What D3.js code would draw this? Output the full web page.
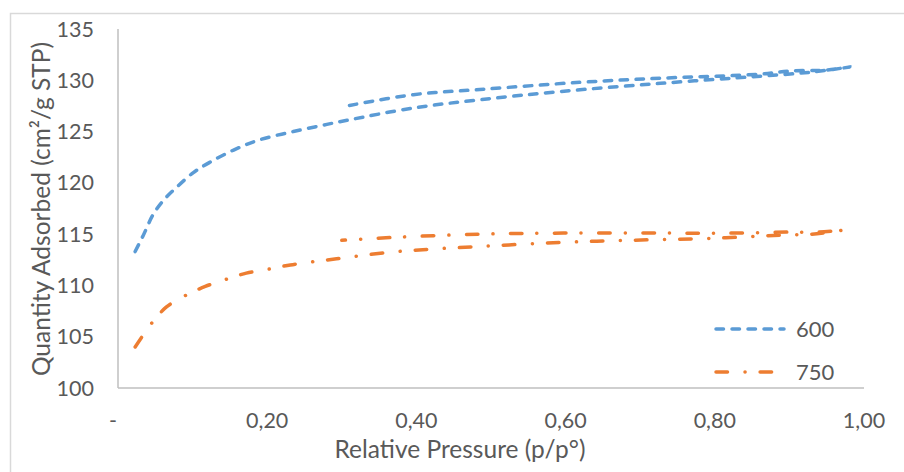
<!DOCTYPE html>
<html>
<head>
<meta charset="utf-8">
<script src="https://cdn.jsdelivr.net/npm/d3@7"></script>
<style>
  html, body { margin: 0; padding: 0; background: #fff; }
  svg { display: block; }
  text { font-family: Lato, "Open Sans", sans-serif; fill: #595959; }
</style>
</head>
<body>
<svg id="chart" width="904" height="472"></svg>
<script>
// isotherms: adsorption up to ~0.98, then desorption back down to ~0.30
var p600 = [0.023, 0.034, 0.047, 0.061, 0.079, 0.101, 0.123, 0.155, 0.19, 0.235, 0.28, 0.307,
  0.396, 0.485, 0.592, 0.727, 0.861, 0.93, 0.981,
  0.95, 0.90, 0.861, 0.727, 0.619, 0.485, 0.396, 0.307];
var v600 = [113.3, 114.9, 116.9, 118.3, 119.6, 121.0, 122.0, 123.2, 124.2, 125.0, 125.7, 126.1,
  127.3, 128.1, 128.9, 129.7, 130.4, 130.8, 131.3,
  131.0, 130.9, 130.6, 130.2, 129.8, 129.1, 128.6, 127.5];

var p750 = [0.023, 0.045, 0.065, 0.09, 0.117, 0.145, 0.172, 0.203, 0.231, 0.261, 0.293, 0.374,
  0.485, 0.597, 0.686, 0.798, 0.887, 0.93, 0.972,
  0.94, 0.90, 0.82, 0.73, 0.597, 0.485, 0.374, 0.30];
var v750 = [104.0, 106.3, 107.9, 109.0, 109.9, 110.6, 111.2, 111.6, 112.0, 112.3, 112.6, 113.3,
  113.8, 114.2, 114.4, 114.6, 114.9, 115.0, 115.4,
  115.2, 115.2, 115.1, 115.1, 115.1, 115.0, 114.7, 114.4];

var seriesNames = ["600", "750"];
var xTicks = [0, 0.2, 0.4, 0.6, 0.8, 1.0];
var yTicks = [100, 105, 110, 115, 120, 125, 130, 135];

var svg = d3.select("#chart");
var margin = { top: 29, left: 118, right: 40, bottom: 84 };
var width = 904 - margin.left - margin.right;
var height = 472 - margin.top - margin.bottom;

// chart area border
svg.append("rect")
  .attr("x", 10.5).attr("y", 13.5)
  .attr("width", 920).attr("height", 500)
  .attr("fill", "none")
  .attr("stroke", "#d9d9d9")
  .attr("stroke-width", 1.5);

var x = d3.scaleLinear().domain([0, 1]).range([margin.left, margin.left + width]);
var y = d3.scaleLinear().domain([100, 135]).range([margin.top + height, margin.top]);

// axes lines
svg.append("line")
  .attr("x1", x(0)).attr("x2", x(0))
  .attr("y1", y(135)).attr("y2", y(100))
  .attr("stroke", "#bfbfbf").attr("stroke-width", 1.5);
svg.append("line")
  .attr("x1", x(0)).attr("x2", x(1))
  .attr("y1", y(100)).attr("y2", y(100))
  .attr("stroke", "#bfbfbf").attr("stroke-width", 1.5);

// tick labels
svg.selectAll(".ytick").data(yTicks).enter().append("text")
  .attr("x", x(0) - 24)
  .attr("y", function (d) { return y(d); })
  .attr("dy", "0.35em")
  .attr("text-anchor", "end")
  .style("font-size", "21.5px")
  .text(function (d) { return d; });

var fmt = function (d) { return d === 0 ? "-" : d3.format(".2f")(d).replace(".", ","); };
svg.selectAll(".xtick").data(xTicks).enter().append("text")
  .attr("x", function (d) { return d === 0 ? x(d) - 5 : x(d); })
  .attr("y", 420)
  .attr("dy", "0.35em")
  .attr("text-anchor", "middle")
  .style("font-size", "21.5px")
  .text(fmt);

// axis titles
svg.append("text")
  .attr("x", 460).attr("y", 449)
  .attr("dy", "0.35em")
  .attr("text-anchor", "middle")
  .style("font-size", "24.5px")
  .text("Relative Pressure (p/p°)");

svg.append("text")
  .attr("transform", "translate(41,209) rotate(-90)")
  .attr("dy", "0.35em")
  .attr("text-anchor", "middle")
  .style("font-size", "24.5px")
  .text("Quantity Adsorbed (cm²/g STP)");

// series
var series = [
  { name: seriesNames[0], p: p600, v: v600, color: "#5b9bd5", dash: "7.5,8.5" },
  { name: seriesNames[1], p: p750, v: v750, color: "#ed7d31", dash: "11.5,17.5,0.1,15" }
];

var line = d3.line()
  .x(function (d) { return x(d[0]); })
  .y(function (d) { return y(d[1]); })
  .curve(d3.curveCatmullRom.alpha(0.5));

series.forEach(function (s) {
  var pts = s.p.map(function (p, i) { return [p, s.v[i]]; });
  svg.append("path")
    .datum(pts)
    .attr("d", line)
    .attr("fill", "none")
    .attr("stroke", s.color)
    .attr("stroke-width", 3.5)
    .attr("stroke-linecap", "round")
    .attr("stroke-dasharray", s.dash);
});

// legend
var legend = svg.selectAll(".legend").data(series).enter().append("g")
  .attr("transform", function (d, i) { return "translate(714," + (329 + i * 43) + ")"; });
legend.append("line")
  .attr("x1", 2).attr("x2", 70)
  .attr("stroke", function (d) { return d.color; })
  .attr("stroke-width", 3.5)
  .attr("stroke-linecap", "round")
  .attr("stroke-dasharray", function (d) { return d.dash; });
legend.append("text")
  .attr("x", 82)
  .attr("dy", "0.35em")
  .style("font-size", "22px")
  .text(function (d) { return d.name; });
</script>
</body>
</html>
